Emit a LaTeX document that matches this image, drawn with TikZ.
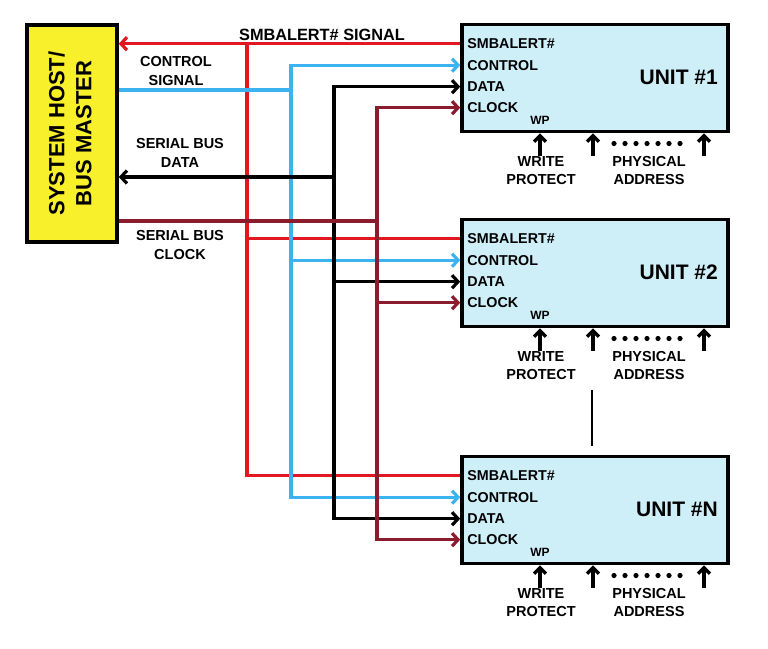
\documentclass[tikz,border=0pt]{standalone}
\usepackage{fontspec}
\setmainfont{Liberation Sans}
\usetikzlibrary{arrows.meta}
\definecolor{cred}{HTML}{E3171F}
\definecolor{cblue}{HTML}{3DB2F0}
\definecolor{cmar}{HTML}{8A1C2E}
\definecolor{cyel}{HTML}{F8F02A}
\definecolor{ccyan}{HTML}{CFEFF8}
\tikzset{
  wire/.style={line width=3.2pt},
  tip/.tip={Straight Barb[length=6pt,width=13pt,line width=3.2pt]},
  uparr/.style={line width=3.4pt,-{Straight Barb[length=6pt,width=12pt,line width=3.4pt]}},
  unitbox/.style={draw=black,line width=3.6pt,fill=ccyan,minimum width=266pt,minimum height=107pt,inner sep=0pt},
  hostbox/.style={draw=black,line width=3.6pt,fill=cyel,minimum width=90pt,minimum height=217pt,inner sep=0pt},
  pinlbl/.style={font=\bfseries\fontsize{14.3}{15}\selectfont,anchor=west,inner sep=0pt},
  toplbl/.style={font=\bfseries\fontsize{14.5}{18.5}\selectfont,align=center,inner sep=0pt},
  wplbl/.style={font=\bfseries\fontsize{12}{13}\selectfont,inner sep=0pt},
  unitlbl/.style={font=\bfseries\fontsize{21}{24}\selectfont,anchor=east,inner sep=0pt},
  hostlbl/.style={font=\bfseries\fontsize{22}{27}\selectfont,align=center,rotate=90,inner sep=0pt}
}
\begin{document}
\begin{tikzpicture}[x=1pt,y=-1pt]
\useasboundingbox (0,0) rectangle (768,648);
\fill[white] (0,0) rectangle (768,648);

% host
\node[hostbox] (host) at (72,133.5) {};
\node[hostlbl] (hosttxt) at (70,133.5) {SYSTEM HOST/\\BUS MASTER};

% units
\foreach \n/\t/\lbl in {1/24.5/{UNIT \#1},2/219.5/{UNIT \#2},N/456.5/{UNIT \#N}}{
  \node[unitbox] (u\n) at (595,\t+53.5) {};
  \coordinate (u\n s) at ([yshift=-21pt]u\n.north west);
  \coordinate (u\n c) at ([yshift=-42.5pt]u\n.north west);
  \coordinate (u\n d) at ([yshift=-64pt]u\n.north west);
  \coordinate (u\n k) at ([yshift=-85pt]u\n.north west);
  \node[pinlbl] (u\n ls) at ([xshift=7pt]u\n s) {SMBALERT\#};
  \node[pinlbl] (u\n lc) at ([xshift=7pt]u\n c) {CONTROL};
  \node[pinlbl] (u\n ld) at ([xshift=7pt]u\n d) {DATA};
  \node[pinlbl] (u\n lk) at ([xshift=7pt]u\n k) {CLOCK};
  \node[wplbl] (u\n wp) at (540,\t+96) {WP};
  \node[unitlbl] (u\n name) at (718,\t+53) {\lbl};
  \node[toplbl] (u\n wpt) at (541,\t+146) {WRITE\\PROTECT};
  \node[toplbl] (u\n pa) at (649,\t+146) {PHYSICAL\\ADDRESS};
  \coordinate (u\n a1) at (540,\t+131);
  \coordinate (u\n a2) at (593,\t+131);
  \coordinate (u\n a3) at (704,\t+131);
  \draw[uparr] (u\n a1) -- (u\n a1 |- u\n.south);
  \draw[uparr] (u\n a2) -- (u\n a2 |- u\n.south);
  \draw[uparr] (u\n a3) -- (u\n a3 |- u\n.south);
  \foreach \i in {0,...,6}{\fill (614+11*\i,\t+119) circle (2.6pt);}
}

% bus x positions
\coordinate (rx) at (247,0);
\coordinate (bx) at (291,0);
\coordinate (kx) at (334,0);
\coordinate (mx) at (377,0);
\coordinate (yb) at (0,90);
\coordinate (yk) at (0,177);
\coordinate (ym) at (0,221);

% SMBALERT (red)
\draw[wire,cred,-tip] (u1s) -- (host.east |- u1s);
\draw[wire,cred] (u1s -| rx) -- (uNs -| rx) -- (uNs);
\draw[wire,cred] (u2s -| rx) -- (u2s);

% CONTROL (blue)
\draw[wire,cblue] (host.east |- yb) -- (yb -| bx);
\draw[wire,cblue,tip-tip] (u1c) -- (u1c -| bx) -- (uNc -| bx) -- (uNc);
\draw[wire,cblue,-tip] (u2c -| bx) -- (u2c);

% DATA (black)
\draw[wire,black,-tip] (yk -| kx) -- (host.east |- yk);
\draw[wire,black,tip-tip] (u1d) -- (u1d -| kx) -- (uNd -| kx) -- (uNd);
\draw[wire,black,-tip] (u2d -| kx) -- (u2d);

% CLOCK (maroon)
\draw[wire,cmar] (host.east |- ym) -- (ym -| mx);
\draw[wire,cmar,tip-tip] (u1k) -- (u1k -| mx) -- (uNk -| mx) -- (uNk);
\draw[wire,cmar,-tip] (u2k -| mx) -- (u2k);

% labels
\node[toplbl,font=\bfseries\fontsize{16.3}{18}\selectfont] (smbsig) at (322,35) {SMBALERT\# SIGNAL};
\node[toplbl] (ctrlsig) at (176,71) {CONTROL\\SIGNAL};
\node[toplbl] (sbdata) at (180,153) {SERIAL BUS\\DATA};
\node[toplbl] (sbclk) at (180,245) {SERIAL BUS\\CLOCK};

% ellipsis line between units
\coordinate (v1) at (592,390);
\coordinate (v2) at (592,446);
\draw[line width=2.6pt] (v1) -- (v2);
\end{tikzpicture}
\end{document}
